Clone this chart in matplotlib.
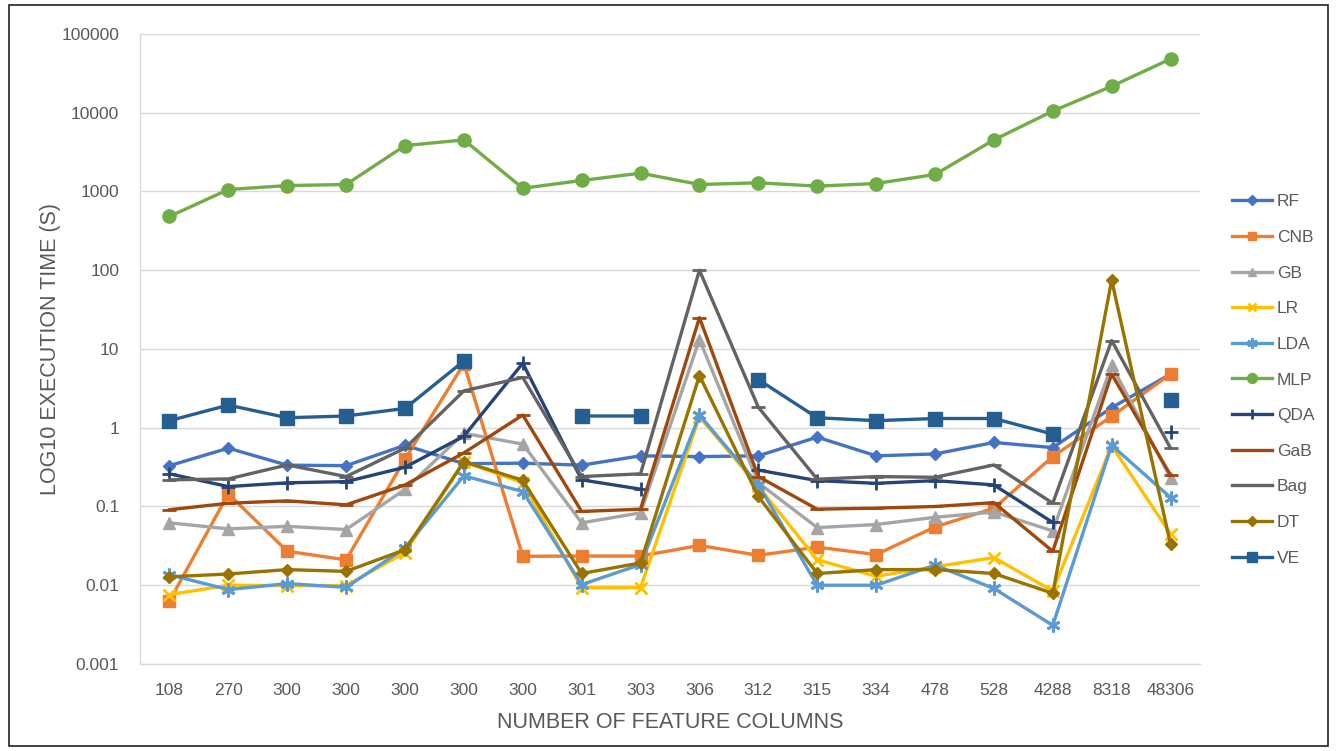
import numpy as np
import matplotlib
matplotlib.use("Agg")
import matplotlib.pyplot as plt
from matplotlib.patches import Rectangle
from matplotlib.ticker import FixedLocator, NullLocator, FuncFormatter

# Execution time (s) per classifier, one value per dataset (nan = no run)
feature_cols = ["108", "270", "300", "300", "300", "300", "300", "301", "303",
                "306", "312", "315", "334", "478", "528", "4288", "8318", "48306"]

nan = np.nan
rf = [0.33, 0.55, 0.335, 0.33, 0.60, 0.35, 0.355, 0.335, 0.44, 0.43, 0.44, 0.76,
      0.44, 0.465, 0.65, 0.56, 1.8, 4.8]
cnb = [0.0063, 0.145, 0.027, 0.021, 0.40, 6.5, 0.0233, 0.0235, 0.0235, 0.032, 0.024,
       0.0305, 0.0245, 0.055, 0.095, 0.43, 1.4, 4.8]
gb = [0.062, 0.052, 0.056, 0.051, 0.165, 0.85, 0.62, 0.062, 0.083, 13.2, 0.2, 0.054,
      0.059, 0.073, 0.085, 0.049, 6.2, 0.23]
lr = [0.0076, 0.0100, 0.0099, 0.0099, 0.026, 0.37, 0.20, 0.0093, 0.0093, 1.38, 0.18,
      0.0211, 0.013, 0.0172, 0.0224, 0.0085, 0.59, 0.045]
lda = [0.0136, 0.0088, 0.0105, 0.0094, 0.0297, 0.245, 0.155, 0.0102, 0.0183, 1.45, 0.19,
       0.0100, 0.0100, 0.018, 0.0091, 0.0031, 0.60, 0.13]
mlp = [482, 1060, 1190, 1227, 3830, 4520, 1100, 1380, 1710, 1227, 1290, 1170, 1263,
       1645, 4520, 10500, 21700, 48200]
qda = [0.26, 0.179, 0.20, 0.207, 0.315, 0.78, 6.6, 0.218, 0.166, nan, 0.29, 0.213,
       0.197, 0.213, 0.188, 0.0627, nan, 0.89]
gab = [0.091, 0.110, 0.118, 0.105, 0.188, 0.48, 1.45, 0.0865, 0.0925, 25, 0.24, 0.0925,
       0.0953, 0.100, 0.112, 0.027, 4.8, 0.25]
bag = [0.218, 0.224, 0.337, 0.24, 0.55, 2.94, 4.35, 0.24, 0.26, 100, 1.82, 0.222,
       0.24, 0.235, 0.337, 0.11, 12.8, 0.55]
dt = [0.0128, 0.0139, 0.0158, 0.015, 0.0283, 0.37, 0.215, 0.0141, 0.0192, 4.6, 0.134,
      0.0141, 0.0158, 0.0158, 0.0141, 0.0079, 75, 0.033]
ve = [1.23, 1.94, 1.34, 1.41, 1.76, 7.05, nan, 1.41, 1.41, nan, 4.09, 1.34, 1.23,
      1.31, 1.31, 0.83, nan, 2.24]

# name, values, colour, marker, marker size
series = [
    ("RF", rf, "#4472C4", "D", 6.5),
    ("CNB", cnb, "#ED7D31", "s", 8.5),
    ("GB", gb, "#A5A5A5", "^", 8.5),
    ("LR", lr, "#FFC000", "x", 8),
    ("LDA", lda, "#5B9BD5", (6, 2, 0), 10),
    ("MLP", mlp, "#70AD47", "o", 9.5),
    ("QDA", qda, "#264478", "+", 10),
    ("GaB", gab, "#9E480E", "_", 10),
    ("Bag", bag, "#636363", "_", 10),
    ("DT", dt, "#997300", "D", 6.5),
    ("VE", ve, "#255E91", "s", 10),
]

plt.rcParams["font.family"] = ["Liberation Sans", "DejaVu Sans"]
text_grey = "#595959"

W, H = 1337, 751
fig = plt.figure(figsize=(W / 100, H / 100), dpi=100)
ax = fig.add_axes([140 / W, 1 - 664 / H, (1200 - 140) / W, (664 - 34) / H])

x = np.arange(len(feature_cols))
for name, vals, color, marker, ms in series:
    ax.plot(x, vals, color=color, lw=2.4, marker=marker, markersize=ms,
            markeredgewidth=2 if marker in ("x", "+", "_", (6, 2, 0)) else 1,
            markerfacecolor=color, markeredgecolor=color, label=name)

ax.set_yscale("log")
ax.set_ylim(0.001, 100000)
ax.set_xlim(-0.5, len(feature_cols) - 0.5)
ax.yaxis.set_major_locator(FixedLocator([10.0 ** k for k in range(-3, 6)]))
ax.yaxis.set_minor_locator(NullLocator())
ax.yaxis.set_major_formatter(FuncFormatter(lambda v, p: "{:g}".format(v)))
ax.set_xticks(x)
ax.set_xticklabels(feature_cols)
ax.tick_params(axis="both", length=0, labelsize=12.5, labelcolor=text_grey)
ax.tick_params(axis="y", pad=15)
ax.tick_params(axis="x", pad=14)
ax.grid(axis="y", color="#D9D9D9", lw=1)
ax.set_axisbelow(True)
for side in ("top", "right"):
    ax.spines[side].set_visible(False)
for side in ("left", "bottom"):
    ax.spines[side].set_color("#D9D9D9")
    ax.spines[side].set_linewidth(1)

ax.set_xlabel("NUMBER OF FEATURE COLUMNS", fontsize=15.5, color=text_grey, labelpad=10)
ax.set_ylabel("LOG10 EXECUTION TIME (S)", fontsize=15.5, color=text_grey, labelpad=0)

fig.legend(loc="center left", bbox_to_anchor=(1216 / W, 1 - 380 / H), frameon=False,
           fontsize=12.5, labelcolor=text_grey, handlelength=2.3, handletextpad=0.3,
           labelspacing=1.18, markerscale=0.75)

fig.patches.append(Rectangle((9 / W, 5 / H), (1328 - 9) / W, (746 - 5) / H,
                             transform=fig.transFigure, fill=False,
                             edgecolor="#222222", lw=1.2))

fig.savefig("out.png", dpi=100)
